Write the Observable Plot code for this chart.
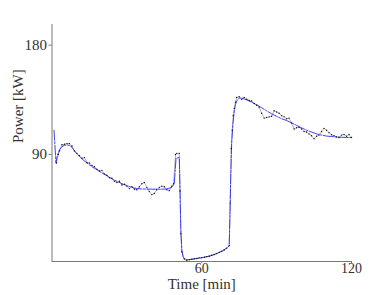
<!DOCTYPE html>
<html>
<head>
<meta charset="utf-8">
<script src="https://cdn.jsdelivr.net/npm/d3@7"></script>
<script src="https://cdn.jsdelivr.net/npm/@observablehq/plot@0.6"></script>
<style>
  html, body { margin: 0; padding: 0; background: #fff; }
  #chart svg { display: block; }
</style>
</head>
<body>
<div id="chart"></div>
<script>
// Measured power (black) - time [min] and power [kW]
const measTime = [1.8,2.5,3,4,5,6,7,8,9,10,11,12,13,14,15,16,17,18,19,20,21,22,23,24,25,26,27,28,29,30,31,32,33,34,35,36,37,38,39,40,41,42,43,44,45,46,47,48,48.7,49.5,50,51,51.3,51.6,52,53,54,55,56,57,58,59,60,61,62,63,64,65,66,67,68,69,70,71,71.4,71.8,72.2,72.6,73,73.5,74,75,76,77,78,79,80,81,82,83,84,85,86,87,88,89,90,91,92,93,94,95,96,97,98,99,100,101,102,103,104,105,106,107,108,109,110,111,112,113,114,115,116,117,118,119,120];
const measPower = [83,90,93,98,98.5,99,99,97,93,91,89,87,87.5,83.5,83,81,80,78,76.5,77,74,73,71,70.5,68,67,68,65,65.5,64,62,63.5,61.5,61,63.5,66,67,63,59.5,57,58,61,63,64,63.5,61,60.3,64,66,90,91,91,60,25,10,4,3,3.5,3.8,4.2,4.5,5,5.2,5.5,6,6.3,7.2,7.8,8.6,9.5,10.3,11.5,13,15,50,95,110,122,128,133,137,137.5,135.5,137,135.5,134.5,134,132,130.5,129,124,120,120.5,121,121.5,126,125,124,122,121,119.5,120,116,111,112,112.5,111,109,108.5,107,105.5,103,105,106,109,111.5,110,108,106.3,105.5,104.5,104,106,106.5,105,106.5,104];

// Model fit (blue)
const fitTime = [0.8,1.6,2,3,4,5,6,7,8,9,10,12,14,16,18,20,22,24,26,28,30,32,34,36,40,44,46,48,49,49.7,51,51.3,51.6,52,52.5,53,54,56,58,60,62,64,66,68,70,71,71.3,71.6,72,72.5,73,73.5,74,75,76,78,80,82,84,86,88,90,92,94,96,98,100,102,104,106,108,110,112,114,116,118,120];
const fitPower = [110,83,88,94,96.5,97.5,98,97.5,96,93,90.5,86.5,83,80,77.5,75,72.5,70,68,66,64.5,63,62,61.7,61.5,61.5,61.7,63,66,87,87.5,60,30,12,6,4.5,3.5,3.8,4.5,5,6,7,8.5,10.5,13,15,40,70,100,115,125,131,134,136.5,136.5,135,133,131,128.5,126,123.5,121.5,119.5,118,116,114,112,110,108.5,107,106,105.2,104.8,104.5,104.2,104,104];

const xTicks = [60, 120];
const yTicks = [90, 180];

const meas = measTime.map((t, i) => ({t, p: measPower[i]}));
const fit = fitTime.map((t, i) => ({t, p: fitPower[i]}));

const chart = Plot.plot({
  width: 390,
  height: 295,
  marginLeft: 51.5,
  marginRight: 39,
  marginTop: 24,
  marginBottom: 34,
  style: {fontFamily: "'Liberation Serif', 'DejaVu Serif', serif", fontSize: "15px", color: "#333", background: "#fff"},
  x: {domain: [0, 120], ticks: xTicks, label: null},
  y: {domain: [2, 197], ticks: yTicks, label: null},
  marks: [
    Plot.ruleX([0], {stroke: "#777", strokeWidth: 1}),
    Plot.ruleY([2], {stroke: "#777", strokeWidth: 1}),
    Plot.axisX({ticks: xTicks, tickSize: 2, tickPadding: 0, stroke: "#777", fontSize: 14, label: null}),
    Plot.axisY({ticks: yTicks, tickSize: 3, tickPadding: 2, stroke: "#777", fontSize: 15, label: null}),
    Plot.line(meas, {x: "t", y: "p", stroke: "#666", strokeWidth: 0.5}),
    Plot.line(fit, {x: "t", y: "p", stroke: "#2a2aff", strokeWidth: 0.9, strokeDasharray: "10,1.5,2,1.5"}),
    Plot.dot(meas, {x: "t", y: "p", r: 0.7, fill: "#111", stroke: null}),
    Plot.text(["Time [min]"], {frameAnchor: "bottom", dy: 27, fontSize: 15, fill: "#333"}),
    Plot.text(["Power [kW]"], {frameAnchor: "left", dx: -33.5, rotate: -90, fontSize: 15, fill: "#333"})
  ]
});
document.getElementById("chart").appendChild(chart);
</script>
</body>
</html>
